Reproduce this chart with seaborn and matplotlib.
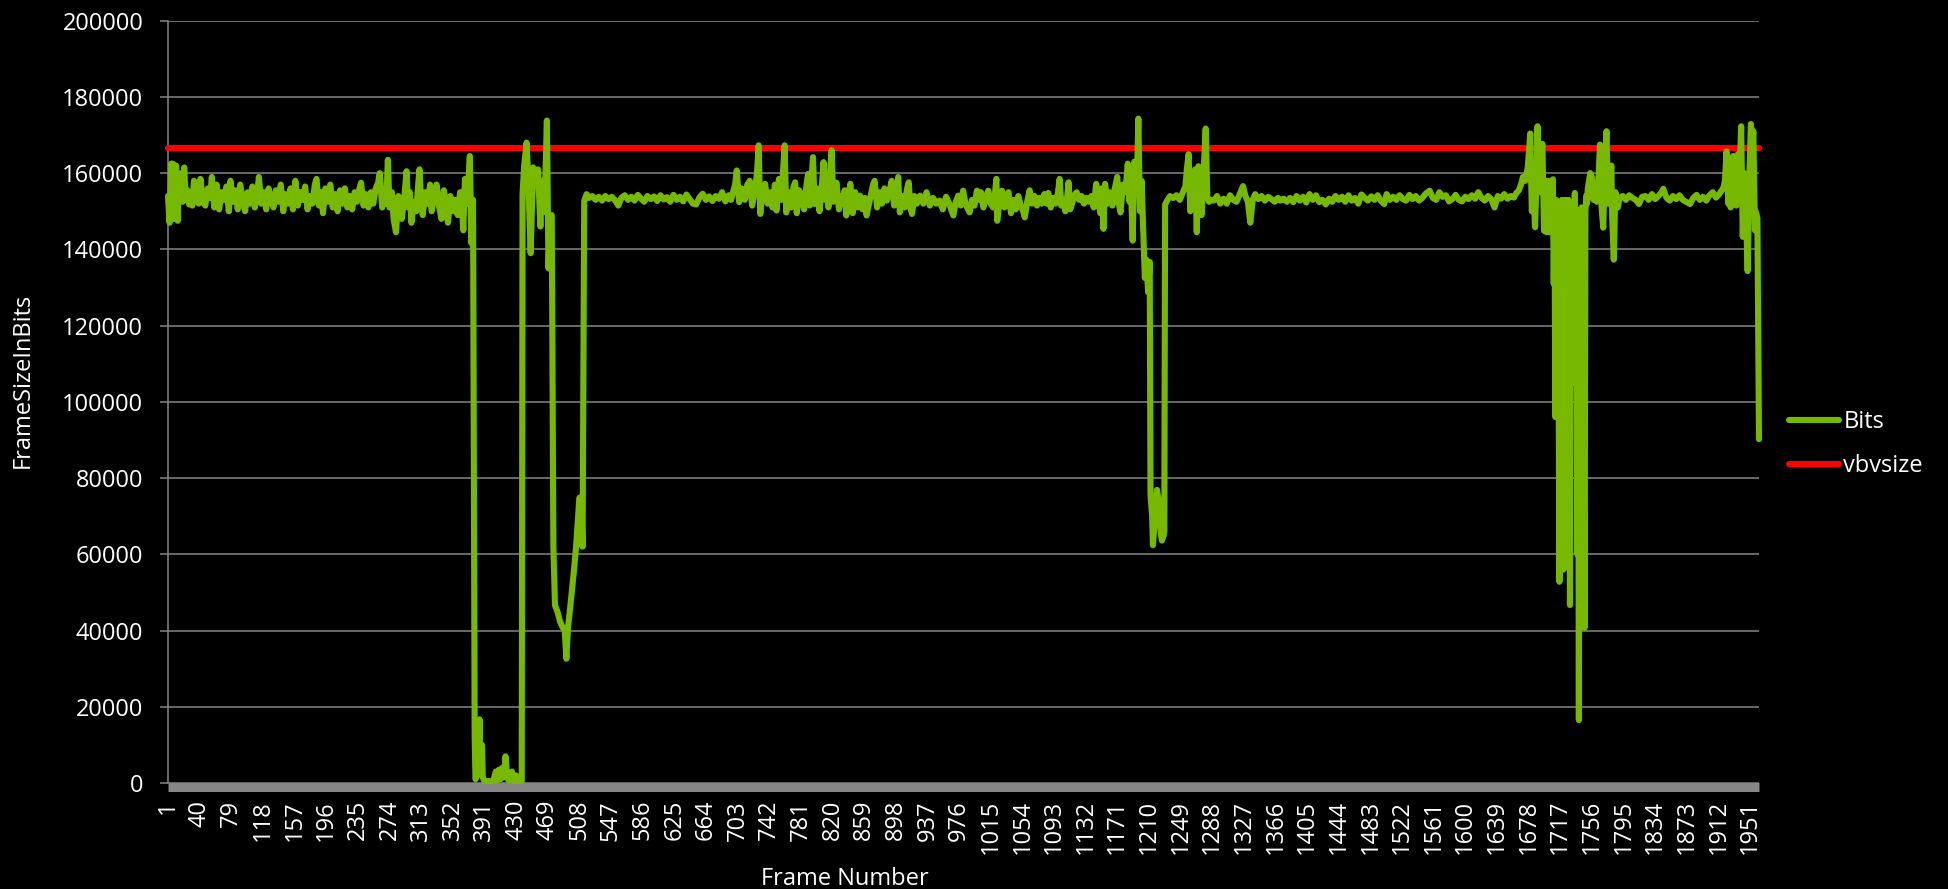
import matplotlib
matplotlib.use("Agg")
import matplotlib.pyplot as plt
import seaborn as sns
import pandas as pd

# ---------------- data (frame, bits) ----------------
N_FRAMES = 1962
VBV_SIZE = 166667

seg_start = [
    (1, 154000), (2, 150000), (3, 147000), (4, 155000), (5, 162500), (6, 152000), (7, 162500),
    (8, 148000), (9, 161500), (10, 153000), (11, 162000), (12, 151000), (13, 147500), (14, 157000),
    (15, 153000), (17, 160000), (19, 152500), (21, 161500), (23, 153000), (25, 155500), (27, 151800),
    (29, 154500), (31, 151500), (33, 158000), (35, 153000), (37, 156000), (39, 152000),
    (41, 158500), (44, 152500), (47, 151500), (50, 156000), (53, 153500), (55, 159000), (58, 151000),
    (61, 157000), (64, 150500), (67, 155000), (70, 153000), (73, 156500), (76, 150000), (78, 158000),
    (81, 152500), (84, 155500), (87, 150500), (90, 157000), (93, 153000), (96, 150000), (99, 155000),
    (102, 152000), (105, 156500), (108, 151000), (111, 154500), (113, 159000), (116, 152000),
    (119, 155000), (122, 150500), (125, 156000), (128, 153000), (131, 151000), (134, 155500),
    (137, 152500), (140, 157000), (143, 150000), (146, 154500), (149, 152000), (152, 156000),
    (155, 150500), (158, 158000), (161, 151500), (164, 155000), (167, 153000), (170, 156500),
    (173, 150500), (176, 154000), (179, 152000), (182, 157000), (184, 158500), (187, 151500),
    (190, 155000), (192, 149500), (195, 156000), (198, 152500), (201, 157000), (204, 151000),
    (207, 154500), (210, 150000), (213, 155500), (216, 152000), (219, 156000), (222, 151000),
    (225, 154000), (228, 150500), (231, 155000), (234, 152500), (237, 156000), (239, 157500),
    (242, 151500), (245, 154500), (248, 151000), (251, 155000), (254, 152000),
]

seg_first_event = [
    (257, 156000), (260, 157500), (262, 160000), (265, 151000), (268, 155000), (270, 152000),
    (272, 163500), (274, 151000), (277, 155000), (279, 148000), (282, 144500), (285, 154000),
    (287, 151000), (289, 148000), (292, 153000), (295, 160500), (297, 151000), (299, 155000),
    (301, 147000), (304, 152500), (307, 150000), (309, 156000), (311, 161000), (313, 152000),
    (315, 149000), (318, 155000), (321, 152000), (324, 157000), (326, 150000), (329, 154000),
    (332, 157000), (335, 151500), (338, 148000), (341, 155500), (344, 151000), (346, 147000),
    (349, 154000), (352, 150000), (355, 153000), (358, 149000), (361, 155000), (363, 152000),
    (365, 145000), (367, 158500), (370, 152000), (373, 164500), (375, 141600), (377, 153000),
    (379, 12000), (380, 1000), (382, 2000), (384, 8000), (385, 16700), (386, 3000), (388, 10000),
    (389, 1500), (391, 500), (394, 500), (398, 500), (402, 500), (405, 3000), (407, 800),
    (409, 3500), (411, 1000), (413, 4000), (415, 1500), (417, 7000), (419, 2000), (421, 500),
    (423, 1500), (425, 3000), (427, 500), (430, 2000), (432, 500), (435, 500), (437, 500),
    (438, 154500), (440, 162000), (443, 168000), (445, 159000), (448, 139000), (451, 161500),
    (454, 158600), (457, 161000), (460, 146000), (462, 158000), (465, 149800), (468, 173800),
    (470, 135000), (472, 148600), (474, 149000), (475, 108000), (476, 62000), (478, 46600),
    (481, 45000), (484, 42500), (487, 41000), (490, 40000), (492, 32600), (494, 40800),
    (497, 46600), (501, 55000), (504, 62000), (508, 74800), (510, 75000), (512, 62000),
    (514, 152700),
]

seg_middle = [
    (517, 154500), (520, 153500), (524, 154000), (528, 153000), (532, 153800), (536, 152800),
    (540, 154000), (544, 153200), (548, 153800), (552, 152900), (556, 151500), (560, 153600),
    (564, 154200), (568, 153000), (572, 153800), (576, 152800), (580, 154300), (584, 153300),
    (588, 152500), (592, 154000), (596, 153200), (600, 153900), (604, 152700), (608, 154200),
    (612, 153100), (616, 153700), (620, 152500), (624, 154300), (628, 153000), (632, 153800),
    (636, 152600), (640, 154400), (644, 153200), (648, 152000), (652, 151800), (656, 153600),
    (660, 154600), (664, 153000), (668, 153900), (672, 152700), (676, 154000), (680, 153300),
    (684, 155000), (688, 152600), (692, 154200), (695, 153000), (698, 155500),
    (700, 157000), (702, 160700), (705, 152400), (708, 156000), (712, 153000), (715, 157000),
    (718, 158000), (721, 151500), (724, 155000), (727, 160000), (729, 167300), (731, 149300),
    (734, 156000), (737, 157200), (740, 152000), (743, 155000), (746, 151000), (749, 157000),
    (751, 150200), (754, 158500), (757, 153000), (759, 160000), (761, 167300), (763, 149700),
    (766, 155000), (769, 151000), (772, 156500), (774, 157600), (776, 149500), (779, 155500),
    (782, 153500), (785, 150500), (788, 157000), (790, 159800), (792, 151500), (794, 158000),
    (796, 164200), (798, 151900), (801, 156000), (804, 150000), (807, 157000), (809, 162900),
    (811, 153000), (813, 157200), (815, 151000), (817, 160000), (819, 166000), (821, 152500),
    (823, 156000), (825, 157500), (828, 150500), (831, 154000), (833, 152200), (835, 155500),
    (837, 148900), (839, 153000), (842, 157200), (845, 149500), (848, 155000), (851, 151000),
    (854, 154100), (857, 150500), (860, 153500), (862, 148900), (865, 152000), (868, 155000),
    (870, 157000), (872, 158000), (875, 151000), (878, 155000), (881, 152000), (884, 156000),
    (887, 152800), (890, 155000), (893, 158000), (896, 151500), (899, 154500), (901, 159000),
    (903, 149700), (906, 154000), (909, 151000), (912, 156000), (914, 157600), (916, 151000),
    (918, 149300), (921, 154000), (924, 152000), (928, 154100), (932, 152000), (936, 155000),
    (940, 151500), (944, 153500), (948, 152000), (952, 152800), (956, 150500), (960, 153800),
    (964, 152000), (967, 150000), (969, 148900), (972, 152500), (975, 154100), (978, 151500),
    (981, 155400), (984, 152000), (987, 150500), (989, 149700), (992, 153000), (995, 151500),
    (998, 155400), (1000, 153000),
    (1003, 155000), (1006, 151000), (1009, 153500), (1012, 155400), (1015, 152000), (1018, 151000),
    (1020, 154000), (1022, 158500), (1023, 147500), (1026, 153000), (1029, 155400), (1032, 151000),
    (1035, 153500), (1037, 155000), (1040, 149500), (1043, 153000), (1046, 150500), (1049, 154000),
    (1052, 151500), (1055, 150000), (1057, 148400), (1060, 152500), (1063, 155500), (1066, 152000),
    (1069, 154000), (1072, 151500), (1075, 153500), (1078, 152000), (1081, 154500), (1084, 152000),
    (1086, 154800), (1089, 151000), (1092, 153500), (1095, 152000), (1098, 155000), (1100, 158500),
    (1102, 151500), (1105, 153000), (1107, 150000), (1109, 153000), (1111, 157600), (1113, 150500),
    (1116, 152500), (1119, 154500), (1121, 155000), (1124, 153000), (1127, 154000), (1130, 152000),
    (1133, 153500), (1136, 152500), (1139, 154000), (1142, 151000), (1145, 157200), (1148, 153000),
    (1150, 149500), (1152, 156000), (1154, 145400), (1156, 157200), (1159, 152000), (1162, 155000),
    (1165, 151500), (1168, 156000), (1171, 159000), (1173, 152000), (1175, 149700), (1178, 157000),
    (1181, 155000), (1184, 162500), (1186, 152500), (1188, 156000), (1190, 142300), (1192, 163000),
    (1194, 158000), (1195, 155000), (1197, 174300), (1199, 150000), (1201, 158000), (1203, 145000),
]

seg_second_event = [
    (1205, 132500), (1207, 137300), (1209, 128800), (1211, 136700), (1212, 75700), (1214, 70000),
    (1215, 62400), (1217, 68000), (1218, 72000), (1220, 76900), (1222, 74000), (1223, 69700),
    (1225, 65000), (1226, 63600), (1228, 64800), (1229, 66000), (1230, 151800), (1233, 153000),
    (1236, 154000), (1240, 153500), (1244, 154200), (1248, 153000), (1252, 155000), (1255, 156600),
    (1257, 161400), (1259, 165000), (1261, 150000), (1263, 158000), (1265, 151800), (1267, 161000),
    (1269, 144500), (1271, 161800), (1273, 155000), (1275, 149000), (1277, 158000), (1280, 171700),
    (1282, 154000), (1284, 152500), (1287, 153000), (1290, 152800), (1294, 154000), (1298, 152000),
    (1302, 153300), (1306, 152000), (1310, 154200), (1314, 153000), (1318, 152500), (1322, 154500),
    (1326, 156600), (1329, 154000), (1332, 152500), (1335, 147000), (1338, 153000), (1341, 154500),
    (1345, 153200), (1349, 154000), (1353, 152800), (1357, 153800), (1361, 153200), (1365, 152500),
    (1369, 153500), (1372, 152800), (1376, 153300), (1380, 152500), (1384, 153500), (1388, 152400),
    (1392, 154000), (1396, 152800), (1400, 153800), (1404, 152300), (1408, 154500), (1412, 153000),
    (1416, 154200), (1420, 152400), (1424, 153000), (1428, 151800), (1432, 153300), (1436, 152500),
    (1440, 154000), (1444, 153000), (1448, 153800), (1452, 152500), (1456, 154200), (1460, 152800),
    (1464, 153500), (1468, 152000), (1472, 154400), (1476, 153500), (1480, 152800), (1484, 153900),
    (1488, 153000), (1492, 154200), (1496, 152700), (1500, 151900), (1503, 154500), (1507, 153000),
    (1511, 153800), (1515, 153000), (1519, 154200), (1523, 153200), (1527, 152800), (1531, 154300),
    (1535, 153200), (1539, 154000), (1543, 152800), (1547, 153500), (1551, 154600), (1556, 155400),
    (1560, 153500), (1564, 153000), (1568, 155000), (1572, 153800), (1576, 154200), (1580, 152600),
    (1584, 153200), (1588, 154300), (1592, 153000), (1596, 152600), (1600, 153800), (1604, 153200),
    (1608, 154200), (1612, 153300), (1616, 155000), (1620, 153500), (1624, 152800), (1628, 154000),
    (1632, 153200), (1636, 151000), (1640, 154000), (1644, 153300), (1648, 154500), (1652, 153300),
    (1656, 154000), (1660, 153600), (1663, 154800), (1666, 155500), (1669, 157200),
]

seg_third_event = [
    (1671, 159000), (1674, 158000), (1677, 161600), (1680, 170400), (1682, 150000), (1684, 155000),
    (1686, 145800), (1688, 160000), (1689, 172300), (1691, 155000), (1693, 164000), (1695, 167700),
    (1697, 144900), (1699, 158000), (1700, 144500), (1702, 158000), (1704, 144500), (1706, 152000),
    (1707, 147000), (1708, 158400), (1709, 131000), (1710, 150000), (1711, 96000), (1712, 153000),
    (1713, 120000), (1714, 150000), (1715, 110000), (1716, 52800), (1717, 145000), (1718, 109500),
    (1719, 153000), (1720, 115000), (1721, 56000), (1722, 148000), (1723, 153000), (1724, 107000),
    (1725, 146000), (1726, 118000), (1727, 153000), (1728, 112000), (1729, 46700), (1730, 150000),
    (1731, 125000), (1732, 148000), (1733, 105000), (1734, 144500), (1735, 154800), (1736, 110000),
    (1737, 150000), (1738, 60000), (1739, 120000), (1740, 16500), (1741, 150000), (1742, 115000),
    (1743, 151000), (1744, 122000), (1745, 149000), (1746, 90000), (1747, 40700), (1748, 150000),
    (1749, 154000), (1750, 152000), (1751, 156000), (1754, 160000), (1756, 159000), (1758, 153000),
    (1760, 155000), (1762, 152500), (1764, 158000), (1766, 167500), (1768, 151000), (1770, 145700),
    (1772, 160000), (1774, 171000), (1776, 152000), (1778, 158000), (1780, 162000), (1781, 149000),
    (1783, 137300), (1785, 155000), (1788, 151000), (1790, 153500),
]

seg_end = [
    (1794, 154000), (1798, 153000), (1802, 154200), (1806, 153500), (1810, 153000), (1814, 151900),
    (1818, 153800), (1822, 154000), (1826, 153000), (1830, 154500), (1834, 153200), (1838, 154000),
    (1842, 155000), (1844, 155900), (1848, 153500), (1852, 152800), (1856, 154000), (1860, 153200),
    (1864, 154200), (1868, 153000), (1872, 152500), (1877, 151900), (1881, 153500), (1885, 154300),
    (1889, 153000), (1893, 153800), (1897, 152800), (1901, 154200), (1905, 155000), (1909, 153600),
    (1913, 154500), (1916, 155500), (1918, 156000), (1920, 158000), (1922, 165700), (1924, 152000),
    (1926, 158000), (1927, 151000), (1929, 163000), (1930, 164500), (1932, 156000), (1934, 151500),
    (1936, 165000), (1938, 158000), (1940, 172300), (1942, 143300), (1944, 160000), (1946, 150000),
    (1948, 134300), (1950, 158000), (1952, 172900), (1954, 168000), (1955, 171000), (1957, 145000),
    (1958, 150000), (1960, 148200), (1962, 90200),
]

tick_frames = [1, 40, 79, 118, 157, 196, 235, 274, 313, 352, 391, 430, 469, 508, 547, 586, 625,
               664, 703, 742, 781, 820, 859, 898, 937, 976, 1015, 1054, 1093, 1132, 1171, 1210,
               1249, 1288, 1327, 1366, 1405, 1444, 1483, 1522, 1561, 1600, 1639, 1678, 1717,
               1756, 1795, 1834, 1873, 1912, 1951]
y_ticks = [0, 20000, 40000, 60000, 80000, 100000, 120000, 140000, 160000, 180000, 200000]

# ---------------- build tables ----------------
pairs = seg_start + seg_first_event + seg_middle + seg_second_event + seg_third_event + seg_end
bits_df = pd.DataFrame(pairs, columns=["frame", "bits"])
vbv_df = pd.DataFrame({"frame": [1, N_FRAMES], "bits": [VBV_SIZE, VBV_SIZE]})

# ---------------- style ----------------
sns.set_theme(style="dark")
plt.rcParams["font.family"] = ["Open Sans", "DejaVu Sans"]
GREEN = "#76B900"
RED = "#FF0000"
GRAY = "#868686"
FS = 17

W, H = 1948, 889
fig = plt.figure(figsize=(W / 100, H / 100), dpi=100, facecolor="black")
L, R, T, B = 168, 1759, 20.7, 783
ax = fig.add_axes([L / W, 1 - B / H, (R - L) / W, (B - T) / H])
ax.set_facecolor("black")

sns.lineplot(data=bits_df, x="frame", y="bits", ax=ax, color=GREEN, linewidth=4.4,
             estimator=None, sort=True, label="Bits", zorder=4)
sns.lineplot(data=vbv_df, x="frame", y="bits", ax=ax, color=RED, linewidth=4.4,
             estimator=None, label="vbvsize", zorder=3)
for ln in ax.get_lines():
    ln.set_solid_capstyle("round")
    ln.set_solid_joinstyle("round")
    ln.set_clip_on(False)

ax.set_xlim(1, N_FRAMES)
ax.set_ylim(0, 200000)
ax.set_yticks(y_ticks)
ax.set_yticklabels([str(v) for v in y_ticks])
ax.set_xticks(tick_frames)
ax.set_xticklabels([str(v) for v in tick_frames])

ax.grid(False)
ax.yaxis.grid(True, color=GRAY, linewidth=1.1)
ax.set_axisbelow(True)

for s in ("top", "right"):
    ax.spines[s].set_visible(False)
ax.spines["left"].set_color(GRAY)
ax.spines["left"].set_linewidth(1.1)
ax.spines["bottom"].set_color(GRAY)
ax.spines["bottom"].set_linewidth(6.5)
ax.spines["bottom"].set_position(("outward", 3.2))
ax.spines["bottom"].set_capstyle("butt")

ax.tick_params(axis="y", colors=GRAY, labelcolor="white", length=5.8, width=1.1,
               pad=12, labelsize=FS, left=True)
ax.tick_params(axis="x", length=0, labelcolor="white", labelsize=FS, pad=9, bottom=True,
               labelrotation=90)

ax.set_xlabel("Frame Number", color="white", fontsize=FS)
ax.xaxis.set_label_coords(0.4255, -0.11)
ax.xaxis.label.set_va("top")
ax.set_ylabel("FrameSizeInBits", color="white", fontsize=FS)
ax.yaxis.set_label_coords(-0.084, 0.528)

ax.legend(loc="center left", bbox_to_anchor=(1789 / W, 1 - 444 / H), bbox_transform=fig.transFigure,
          frameon=False, borderpad=0, borderaxespad=0, handlelength=2.1, handletextpad=0.2,
          labelspacing=0.85, fontsize=FS, labelcolor="white")

fig.savefig("out.png", dpi=100, facecolor="black")
